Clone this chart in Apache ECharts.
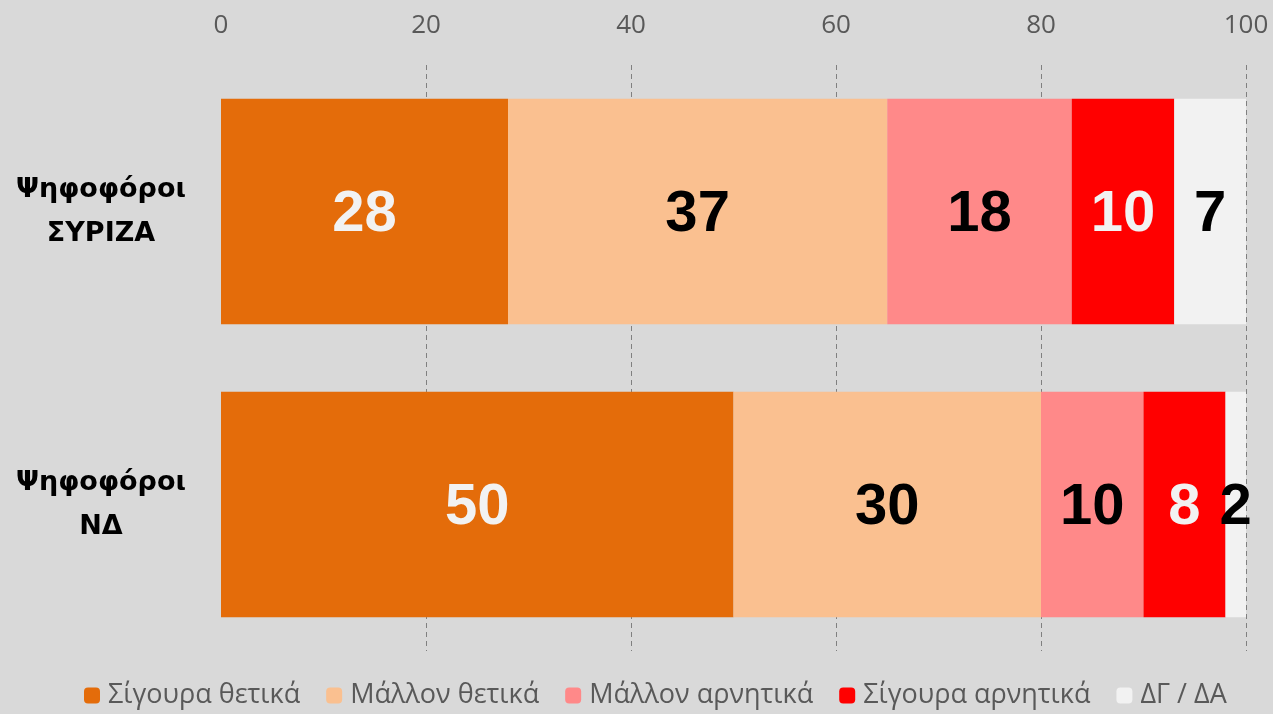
<!DOCTYPE html>
<html>
<head>
<meta charset="utf-8">
<script src="https://cdn.jsdelivr.net/npm/echarts@6/dist/echarts.min.js"></script>
<style>
  html, body { margin: 0; padding: 0; background: #d9d9d9; }
  #chart { width: 1273px; height: 714px; }
</style>
</head>
<body>
<div id="chart"></div>
<script>
// κατηγορίες και τιμές
const categories = ['Ψηφοφόροι\nΣΥΡΙΖΑ', 'Ψηφοφόροι\nΝΔ'];
const seriesNames = ['Σίγουρα θετικά', 'Μάλλον θετικά', 'Μάλλον αρνητικά', 'Σίγουρα αρνητικά', 'ΔΓ / ΔΑ'];
const sureYes = [28, 50];
const ratherYes = [37, 30];
const ratherNo = [18, 10];
const sureNo = [10, 8];
const dkna = [7, 2];
const xTicks = [0, 20, 40, 60, 80, 100];

const colors = ['#E46C0A', '#FAC090', '#FF8989', '#FF0000', '#F2F2F2'];
const labelColors = ['#F2F2F2', '#000000', '#000000', '#F2F2F2', '#000000'];
const values = [sureYes, ratherYes, ratherNo, sureNo, dkna];

let myChart = echarts.init(document.getElementById('chart'));

let option = {
  backgroundColor: '#d9d9d9',
  animation: false,
  grid: { left: 221, right: 27, top: 65, height: 586, containLabel: false },
  legend: {
    bottom: 0,
    left: 79,
    itemWidth: 16,
    itemHeight: 16,
    itemGap: 26,
    textStyle: { fontFamily: 'Open Sans', fontSize: 27, color: '#595959', padding: [0, 0, 0, 3] },
    data: seriesNames
  },
  xAxis: {
    type: 'value',
    position: 'top',
    min: xTicks[0],
    max: xTicks[xTicks.length - 1],
    interval: 20,
    axisLine: { show: false },
    axisTick: { show: false },
    axisLabel: { fontFamily: 'Open Sans', fontSize: 26, color: '#595959', margin: 26 },
    splitLine: { show: true, showMinLine: false, lineStyle: { type: [5, 4], color: '#808080', width: 1 } }
  },
  yAxis: {
    type: 'category',
    inverse: true,
    data: categories,
    axisLine: { show: false },
    axisTick: { show: false },
    axisLabel: {
      fontFamily: 'DejaVu Sans',
      fontWeight: 'bold',
      fontSize: 27,
      color: '#000',
      align: 'center',
      margin: 120,
      lineHeight: 44
    }
  },
  series: seriesNames.map((name, i) => ({
    name: name,
    type: 'bar',
    stack: 'total',
    barWidth: '77%',
    itemStyle: { color: colors[i] },
    label: {
      show: true,
      position: 'inside',
      fontFamily: 'Liberation Sans',
      fontWeight: 'bold',
      fontSize: 58,
      color: labelColors[i],
      offset: [0, 3]
    },
    data: values[i]
  }))
};

myChart.setOption(option);
</script>
</body>
</html>
